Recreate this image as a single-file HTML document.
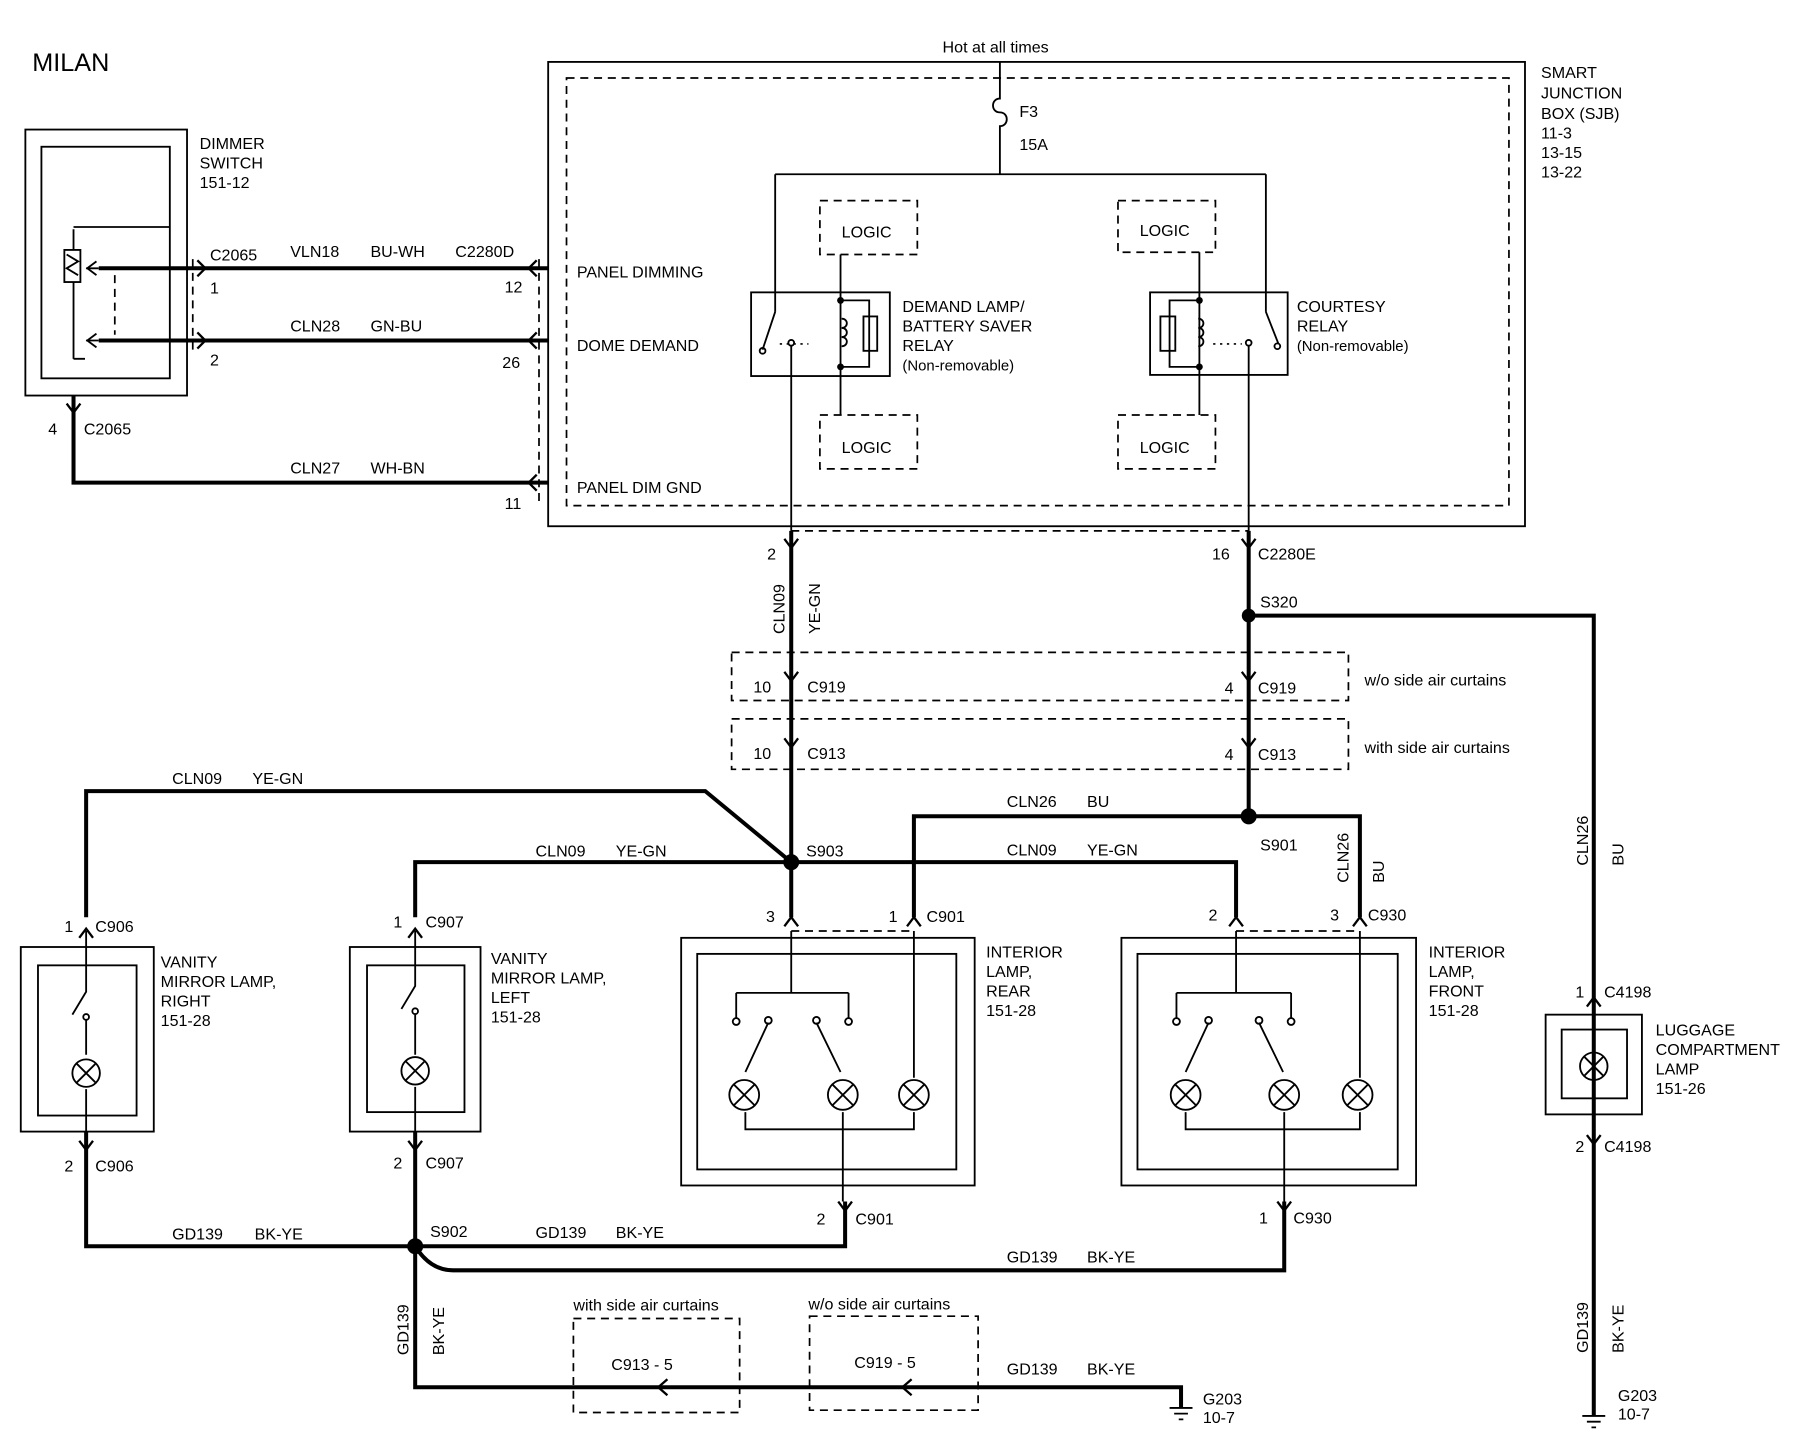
<!DOCTYPE html>
<html><head><meta charset="utf-8"><style>
html,body{margin:0;padding:0;background:#fff;}
svg{display:block}
text{font-family:"Liberation Sans",Arial,sans-serif;fill:#000;font-size:14px}
.w{stroke:#000;stroke-width:3.5;fill:none}
.t{stroke:#000;stroke-width:1.6;fill:none}
.d{stroke:#000;stroke-width:1.5;fill:none;stroke-dasharray:7,5}
.c{stroke:#000;stroke-width:2;fill:none}
</style></head><body>
<svg width="1798" height="1440" viewBox="0 0 1568 1256" xmlns="http://www.w3.org/2000/svg">
<rect width="1568" height="1256" fill="#fff"/>
<text x="28" y="62" style="font-size:22px">MILAN</text>

<!-- Dimmer switch -->
<rect x="22" y="113" width="141" height="232" class="t"/>
<rect x="36" y="128" width="112" height="202" class="t"/>
<text x="174" y="130">DIMMER</text><text x="174" y="147">SWITCH</text><text x="174" y="164">151-12</text>
<rect x="56" y="218" width="14" height="28" class="t"/>
<path d="M58 222 l10 6 l-10 6 l10 6" class="t"/>
<path d="M64 200 V218 M64 246 V313 M64 313 h10 M64 198 H148" class="t"/>
<path d="M75 234 H86 M75 297 H86" class="t"/>
<path d="M84 228 l-8 6 l8 6 M84 291 l-8 6 l8 6" class="t"/>
<path d="M100 240 V292" class="d"/>
<!-- wires from dimmer -->
<path d="M86 234 H478" class="w"/><path d="M86 297 H478" class="w"/>
<path d="M64 345 V421 H478" class="w"/>
<path d="M172 227 l7 7 l-7 7 M172 290 l7 7 l-7 7" class="c"/>
<path d="M168 226 V305" class="d"/>
<path d="M58 352 l6 8 l6 -8" class="c"/>
<path d="M470 226 V438" class="d"/>
<path d="M468 227 l-7 7 l7 7 M468 290 l-7 7 l7 7 M468 414 l-7 7 l7 7" class="c"/>
<text x="183" y="227">C2065</text><text x="183" y="256">1</text><text x="183" y="319">2</text>
<text x="253" y="224">VLN18</text><text x="323" y="224">BU-WH</text><text x="397" y="224">C2280D</text>
<text x="440" y="255">12</text><text x="438" y="321">26</text>
<text x="253" y="289">CLN28</text><text x="323" y="289">GN-BU</text>
<text x="42" y="379">4</text><text x="73" y="379">C2065</text>
<text x="253" y="413">CLN27</text><text x="323" y="413">WH-BN</text><text x="440" y="444">11</text>
<text x="503" y="242">PANEL DIMMING</text><text x="503" y="306">DOME DEMAND</text><text x="503" y="430">PANEL DIM GND</text>

<!-- SJB -->
<rect x="478" y="54" width="852" height="405" class="t"/>
<rect x="494" y="68" width="822" height="373" class="d"/>
<text x="1344" y="68">SMART</text><text x="1344" y="86">JUNCTION</text><text x="1344" y="104">BOX (SJB)</text>
<text x="1344" y="121">11-3</text><text x="1344" y="138">13-15</text><text x="1344" y="155">13-22</text>
<text x="822" y="46">Hot at all times</text>
<path d="M872 54 V86 c-8 0 -8 12 0 12 c8 0 8 12 0 12 V152" class="t"/>
<text x="889" y="102">F3</text><text x="889" y="131">15A</text>
<path d="M676 152 H1104 M676 152 V272 M1104 152 V272" class="t"/>
<!-- demand relay -->
<rect x="655" y="255" width="121" height="73" class="t"/>
<path d="M676 272 L665 305" class="t"/><circle cx="665" cy="306" r="2.5" class="t"/>
<circle cx="690" cy="299" r="2.5" class="t"/>
<path d="M680 300 h25" stroke="#000" stroke-dasharray="2,4" stroke-width="1.5"/>
<path d="M733 222 V362" class="t"/>
<path d="M733 262 H758 V320 H733" class="t"/>
<rect x="753" y="276" width="12" height="30" class="t"/>
<path d="M734 278 c6 0 6 8 0 8 c6 0 6 8 0 8 c6 0 6 8 0 8" class="t"/>
<circle cx="733" cy="262" r="3"/><circle cx="733" cy="320" r="3"/>
<text x="787" y="272">DEMAND LAMP/</text><text x="787" y="289">BATTERY SAVER</text><text x="787" y="306">RELAY</text><text x="787" y="323" style="font-size:13px">(Non-removable)</text>
<rect x="715" y="175" width="85" height="47" class="d"/><text x="734" y="207">LOGIC</text>
<rect x="715" y="362" width="85" height="47" class="d"/><text x="734" y="395">LOGIC</text>
<!-- courtesy relay -->
<rect x="1003" y="255" width="120" height="72" class="t"/>
<path d="M1104 272 L1115 300" class="t"/><circle cx="1114" cy="302" r="2.5" class="t"/>
<circle cx="1089" cy="299" r="2.5" class="t"/>
<path d="M1058 300 h25" stroke="#000" stroke-dasharray="2,4" stroke-width="1.5"/>
<path d="M1046 220 V362" class="t"/>
<path d="M1046 262 H1020 V320 H1046" class="t"/>
<rect x="1012" y="276" width="13" height="30" class="t"/>
<path d="M1045 278 c6 0 6 8 0 8 c6 0 6 8 0 8 c6 0 6 8 0 8" class="t"/>
<circle cx="1046" cy="262" r="3"/><circle cx="1046" cy="320" r="3"/>
<text x="1131" y="272">COURTESY</text><text x="1131" y="289">RELAY</text><text x="1131" y="306" style="font-size:13px">(Non-removable)</text>
<rect x="975" y="175" width="85" height="45" class="d"/><text x="994" y="206">LOGIC</text>
<rect x="975" y="362" width="85" height="47" class="d"/><text x="994" y="395">LOGIC</text>

<!-- outputs -->
<path d="M690 301 V463" class="t"/><path d="M1089 301 V463" class="t"/>
<path d="M690 463 V800" class="w"/><path d="M1089 463 V712" class="w"/>
<path d="M690 463 H1089" class="d"/>
<path d="M684 470 l6 8 l6 -8 M1083 470 l6 8 l6 -8" class="c"/>
<text x="669" y="488">2</text><text x="1057" y="488">16</text><text x="1097" y="488">C2280E</text>
<text transform="translate(684,553) rotate(-90)">CLN09</text><text transform="translate(715,553) rotate(-90)">YE-GN</text>
<circle cx="1089" cy="537" r="6"/><text x="1099" y="530">S320</text>
<path d="M1089 537 H1390 V1235" class="w"/>
<rect x="638" y="569" width="538" height="42" class="d"/>
<rect x="638" y="627" width="538" height="44" class="d"/>
<path d="M684 586 l6 8 l6 -8 M1083 586 l6 8 l6 -8 M684 644 l6 8 l6 -8 M1083 644 l6 8 l6 -8" class="c"/>
<text x="657" y="604">10</text><text x="704" y="604">C919</text><text x="1068" y="605">4</text><text x="1097" y="605">C919</text>
<text x="657" y="662">10</text><text x="704" y="662">C913</text><text x="1068" y="663">4</text><text x="1097" y="663">C913</text>
<text x="1190" y="598">w/o side air curtains</text><text x="1190" y="657">with side air curtains</text>

<!-- distribution -->
<path d="M690 752 L615 690 H75 V800" class="w"/>
<path d="M690 752 H362 V800" class="w"/>
<path d="M690 752 H1078 V800" class="w"/>
<path d="M1089 712 H797 V800" class="w"/>
<path d="M1089 712 H1186 V800" class="w"/>
<circle cx="690" cy="752" r="7"/><circle cx="1089" cy="712" r="7"/>
<text x="150" y="684">CLN09</text><text x="220" y="684">YE-GN</text>
<text x="467" y="747">CLN09</text><text x="537" y="747">YE-GN</text>
<text x="878" y="746">CLN09</text><text x="948" y="746">YE-GN</text>
<text x="878" y="704">CLN26</text><text x="948" y="704">BU</text>
<text x="703" y="747">S903</text><text x="1099" y="742">S901</text>
<text transform="translate(1176,770) rotate(-90)">CLN26</text><text transform="translate(1207,770) rotate(-90)">BU</text>
<text transform="translate(1385,755) rotate(-90)">CLN26</text><text transform="translate(1416,755) rotate(-90)">BU</text>

<!-- connectors top of lamps -->
<path d="M69 818 l6 -8 l6 8 M356 818 l6 -8 l6 8 M684 808 l6 -8 l6 8 M791 808 l6 -8 l6 8 M1072 808 l6 -8 l6 8 M1180 808 l6 -8 l6 8 M1384 878 l6 -8 l6 8" class="c"/>
<path d="M690 812 H797 M1078 812 H1186" class="d"/>
<text x="56" y="813">1</text><text x="83" y="813">C906</text>
<text x="343" y="809">1</text><text x="371" y="809">C907</text>
<text x="668" y="804">3</text><text x="775" y="804">1</text><text x="808" y="804">C901</text>
<text x="1054" y="803">2</text><text x="1160" y="803">3</text><text x="1193" y="803">C930</text>
<text x="1374" y="870">1</text><text x="1399" y="870">C4198</text>

<!-- vanity right -->
<rect x="18" y="826" width="116" height="161" class="t"/><rect x="33" y="842" width="86" height="131" class="t"/>
<path d="M75 812 V865 L63 885 M75 890 V920 M75 950 V1000" class="t"/><circle cx="75" cy="887" r="2.5" class="t"/>
<circle cx="75" cy="936" r="12" class="t"/><path d="M67 928 l16 16 M83 928 l-16 16" class="t"/>
<text x="140" y="844">VANITY</text><text x="140" y="861">MIRROR LAMP,</text><text x="140" y="878">RIGHT</text><text x="140" y="895">151-28</text>
<!-- vanity left -->
<rect x="305" y="826" width="114" height="161" class="t"/><rect x="320" y="842" width="85" height="128" class="t"/>
<path d="M362 812 V860 L350 880 M362 885 V920 M362 948 V1000" class="t"/><circle cx="362" cy="882" r="2.5" class="t"/>
<circle cx="362" cy="934" r="12" class="t"/><path d="M354 926 l16 16 M370 926 l-16 16" class="t"/>
<text x="428" y="841">VANITY</text><text x="428" y="858">MIRROR LAMP,</text><text x="428" y="875">LEFT</text><text x="428" y="892">151-28</text>

<!-- interior rear -->
<rect x="594" y="818" width="256" height="216" class="t"/><rect x="608" y="832" width="226" height="188" class="t"/>
<path d="M690 812 V866 M642 866 H740 M642 866 V888 M740 866 V888 M797 812 V940 M797 970 V985 H650 V970 M735 970 V1048" class="t"/>
<path d="M670 892 L650 935 M712 892 L733 935" class="t"/>
<circle cx="642" cy="891" r="3" class="t"/><circle cx="740" cy="891" r="3" class="t"/><circle cx="670" cy="890" r="3" class="t"/><circle cx="712" cy="890" r="3" class="t"/>
<circle cx="649" cy="955" r="13" class="t"/><path d="M640 946 l18 18 M658 946 l-18 18" class="t"/>
<circle cx="735" cy="955" r="13" class="t"/><path d="M726 946 l18 18 M744 946 l-18 18" class="t"/>
<circle cx="797" cy="955" r="13" class="t"/><path d="M788 946 l18 18 M806 946 l-18 18" class="t"/>
<text x="860" y="835">INTERIOR</text><text x="860" y="852">LAMP,</text><text x="860" y="869">REAR</text><text x="860" y="886">151-28</text>
<!-- interior front -->
<rect x="978" y="818" width="257" height="216" class="t"/><rect x="992" y="832" width="227" height="188" class="t"/>
<path d="M1078 812 V866 M1026 866 H1126 M1026 866 V888 M1126 866 V888 M1186 812 V940 M1186 970 V985 H1034 V970 M1120 970 V1048" class="t"/>
<path d="M1054 892 L1034 935 M1098 892 L1119 935" class="t"/>
<circle cx="1026" cy="891" r="3" class="t"/><circle cx="1126" cy="891" r="3" class="t"/><circle cx="1054" cy="890" r="3" class="t"/><circle cx="1098" cy="890" r="3" class="t"/>
<circle cx="1034" cy="955" r="13" class="t"/><path d="M1025 946 l18 18 M1043 946 l-18 18" class="t"/>
<circle cx="1120" cy="955" r="13" class="t"/><path d="M1111 946 l18 18 M1129 946 l-18 18" class="t"/>
<circle cx="1184" cy="955" r="13" class="t"/><path d="M1175 946 l18 18 M1193 946 l-18 18" class="t"/>
<text x="1246" y="835">INTERIOR</text><text x="1246" y="852">LAMP,</text><text x="1246" y="869">FRONT</text><text x="1246" y="886">151-28</text>
<!-- luggage -->
<rect x="1348" y="885" width="84" height="87" class="t"/><rect x="1362" y="898" width="57" height="60" class="t"/>
<circle cx="1390" cy="930" r="12" class="t"/><path d="M1382 922 l16 16 M1398 922 l-16 16" class="t"/>
<text x="1444" y="903">LUGGAGE</text><text x="1444" y="920">COMPARTMENT</text><text x="1444" y="937">LAMP</text><text x="1444" y="954">151-26</text>
<path d="M1384 990 l6 8 l6 -8" class="c"/>
<text x="1374" y="1005">2</text><text x="1399" y="1005">C4198</text>

<!-- grounds -->
<path d="M75 987 V1087 H737 V1048" class="w"/>
<path d="M362 987 V1210 H1030 V1228" class="w"/>
<path d="M362 1087 Q375 1108 395 1108 H1120 V1048" class="w"/>
<circle cx="362" cy="1087" r="7"/>
<path d="M69 995 l6 8 l6 -8 M356 995 l6 8 l6 -8 M731 1048 l6 8 l6 -8 M1114 1048 l6 8 l6 -8" class="c"/>
<text x="56" y="1022">2</text><text x="83" y="1022">C906</text><text x="343" y="1019">2</text><text x="371" y="1019">C907</text>
<text x="712" y="1068">2</text><text x="746" y="1068">C901</text><text x="1098" y="1067">1</text><text x="1128" y="1067">C930</text>
<text x="150" y="1081">GD139</text><text x="222" y="1081">BK-YE</text><text x="375" y="1079">S902</text>
<text x="467" y="1080">GD139</text><text x="537" y="1080">BK-YE</text>
<text x="878" y="1101">GD139</text><text x="948" y="1101">BK-YE</text>
<text transform="translate(356,1182) rotate(-90)">GD139</text><text transform="translate(387,1182) rotate(-90)">BK-YE</text>
<rect x="500" y="1150" width="145" height="82" class="d"/><rect x="706" y="1148" width="147" height="82" class="d"/>
<text x="500" y="1143">with side air curtains</text><text x="705" y="1142">w/o side air curtains</text>
<text x="533" y="1195">C913 - 5</text><text x="745" y="1193">C919 - 5</text>
<path d="M582 1203 l-8 7 l8 7 M795 1203 l-8 7 l8 7" class="c"/>
<text x="878" y="1199">GD139</text><text x="948" y="1199">BK-YE</text>
<path d="M1020 1228 h20 M1024 1233 h12 M1028 1238 h4" class="t"/>
<text x="1049" y="1225">G203</text><text x="1049" y="1241">10-7</text>
<text transform="translate(1385,1180) rotate(-90)">GD139</text><text transform="translate(1416,1180) rotate(-90)">BK-YE</text>
<path d="M1380 1235 h20 M1384 1240 h12 M1388 1245 h4" class="t"/>
<text x="1411" y="1222">G203</text><text x="1411" y="1238">10-7</text>
</svg>
</body></html>
